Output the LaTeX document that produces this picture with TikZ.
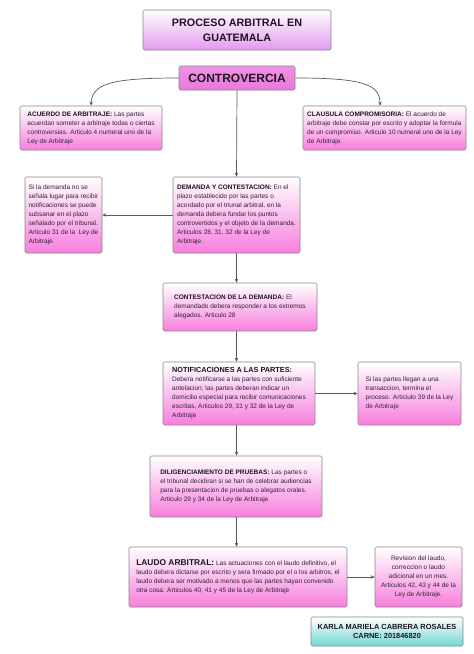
\documentclass[tikz,border=0pt]{standalone}
\usepackage{fontspec}
\setmainfont{Liberation Sans}
\usepackage{xcolor}
\definecolor{arbink}{HTML}{1E1420}
\definecolor{arbtext}{HTML}{35203A}
\definecolor{arbrule}{HTML}{8C8590}
\definecolor{arbpink}{HTML}{F77FDD}
\definecolor{arblilac}{HTML}{E39AF0}
\definecolor{arbmagenta}{HTML}{EA78DD}
\definecolor{arbcyan}{HTML}{72D6D3}
\definecolor{arbline}{HTML}{5A5A5A}
\usetikzlibrary{arrows.meta}
\tikzset{
  arbnode/.style ={rectangle, rounded corners=1.5pt, draw=arbrule, line width=0.6pt,
                   top color=white, bottom color=arbpink, inner sep=2pt,
                   align=left, font=\fontsize{6.5}{9}\selectfont, text=arbtext},
  arbtitle/.style={arbnode, bottom color=arblilac, align=center,
                   font=\fontsize{10.8}{15}\selectfont\bfseries, text=arbink},
  arbroot/.style ={arbnode, top color=arbmagenta!80, bottom color=arbmagenta,
                   align=center, font=\fontsize{12}{14}\selectfont\bfseries, text=arbink},
  arbname/.style ={arbnode, bottom color=arbcyan, align=center,
                   font=\fontsize{7.4}{9.6}\selectfont\bfseries, text=arbink},
  arbarrow/.style={-{Stealth[length=4pt,width=3.5pt]}, line width=0.7pt, draw=arbline},
}
\newcommand{\arbhd}[1]{\textcolor{arbink}{\bfseries #1}}
\begin{document}
\begin{tikzpicture}[x=1pt, y=-1pt]
  \fill[white] (0,0) rectangle (474,654);
  \useasboundingbox (0,0) rectangle (474,654);

  \node[arbtitle, minimum width=188pt, minimum height=40pt] (title) at (237,30)
       {PROCESO ARBITRAL EN\\GUATEMALA};
  \node[arbroot, minimum width=116pt, minimum height=24pt] (contro) at (237,78)
       {CONTROVERCIA};

  \node[arbnode, minimum width=142pt, minimum height=44pt] (acuerdo) at (91,128)
       {\arbhd{ACUERDO DE ARBITRAJE:} Las partes\\
        acuerdan someter a arbitraje todas o ciertas\\
        controversias. Articulo 4 numeral uno de la\\
        Ley de Arbitraje};
  \node[arbnode, minimum width=163pt, minimum height=44pt] (clausula) at (384.5,128)
       {\arbhd{CLAUSULA COMPROMISORIA:} El acuerdo de\\
        arbitraje debe constar por escrito y adoptar la formula\\
        de un compromiso. Articulo 10 numeral uno de la Ley\\
        de Arbitraje.};

  \node[arbnode, minimum width=77pt, minimum height=76pt] (sidemanda) at (63.5,215)
       {Si la demanda no se\\
        señala lugar para recibir\\
        notificaciones se puede\\
        subsanar en el plazo\\
        señalado por el tribunal.\\
        Articulo 31 de la\ \ Ley de\\
        Arbitraje.};
  \node[arbnode, minimum width=127pt, minimum height=76pt] (demanda) at (236.5,215)
       {\arbhd{DEMANDA Y CONTESTACION:} En el\\
        plazo establecido por las partes o\\
        acordado por el triunal arbitral, en la\\
        demanda debera fundar los puntos\\
        controvertidos y el objeto de la demanda.\\
        Articulos 28, 31, 32 de la Ley de\\
        Arbitraje.};

  \node[arbnode, minimum width=154pt, minimum height=48pt] (contest) at (240,307)
       {\arbhd{CONTESTACION DE LA DEMANDA:} El\\
        demandado debera responder a los extremos\\
        alegados. Articulo 28};

  \node[arbnode, minimum width=152pt, minimum height=63pt] (notif) at (239,393.5)
       {\arbhd{\fontsize{7.3}{9}\selectfont NOTIFICACIONES A LAS PARTES:}\\
        Debera notificarse a las partes con suficiente\\
        antelacion; las partes deberan indicar un\\
        domicilio especial para recibir comunicaciones\\
        escritas, Articulos 29, 31 y 32 de la Ley de\\
        Arbitraje};
  \node[arbnode, minimum width=103pt, minimum height=63pt] (sipartes) at (409.5,393.5)
       {Si las partes llegan a una\\
        transaccion, termina el\\
        proceso. Articiulo 39 de la Ley\\
        de Arbitraje};

  \node[arbnode, minimum width=172pt, minimum height=61pt] (dilig) at (236,486.5)
       {\arbhd{DILIGENCIAMIENTO DE PRUEBAS:} Las partes o\\
        el tribunal decidiran si se han de celebrar audiencias\\
        para la presentacion de pruebas o alegatos orales.\\
        Articulo 29 y 34 de la Ley de Arbitraje};

  \node[arbnode, minimum width=218pt, minimum height=60pt] (laudo) at (238,577)
       {\arbhd{\fontsize{8.4}{9}\selectfont LAUDO ARBITRAL:} Las actuaciones con el laudo definitivo, el\\
        laudo debera dictarse por escrito y sera firmado por el o los arbitros, el\\
        laudo debera ser motivado a menos que las partes hayan convenido\\
        otra cosa. Articulos 40, 41 y 45 de la Ley de Arbitraje};
  \node[arbnode, align=center, minimum width=87pt, minimum height=60pt] (revision) at (418.5,577)
       {Revision del laudo,\\
        correccion o laudo\\
        adicional en un mes.\\
        Articulos 42, 43 y 44 de la\\
        Ley de Arbitraje.};

  \node[arbname, minimum width=152pt, minimum height=29pt] (autora) at (387,631.5)
       {KARLA MARIELA CABRERA ROSALES\\CARNE: 201846820};

  % connectors
  \draw[arbarrow] (contro.west) .. controls (110,78) and (92,84) .. (acuerdo.north);
  \draw[arbarrow] (contro.east) .. controls (362,78) and (380,84) .. (clausula.north -| 380,0);
  \draw[arbarrow] (contro.south) -- (demanda.north);
  \draw[arbarrow] (demanda.west) -- (sidemanda.east);
  \draw[arbarrow] (demanda.south) -- (demanda.south |- contest.north);
  \draw[arbarrow] (demanda.south |- contest.south) -- (demanda.south |- notif.north);
  \draw[arbarrow] (notif.east) -- (sipartes.west);
  \draw[arbarrow] (demanda.south |- notif.south) -- (demanda.south |- dilig.north);
  \draw[arbarrow] (demanda.south |- dilig.south) -- (demanda.south |- laudo.north);
  \draw[arbarrow] (laudo.east) -- (revision.west);
\end{tikzpicture}
\end{document}
